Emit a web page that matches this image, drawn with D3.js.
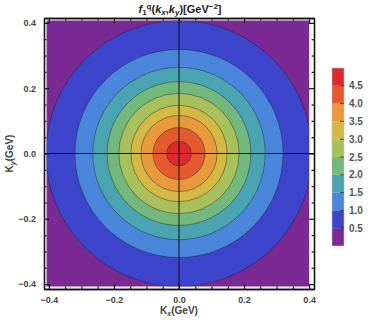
<!DOCTYPE html>
<html>
<head>
<meta charset="utf-8">
<script src="https://cdn.jsdelivr.net/npm/d3@7/dist/d3.min.js"></script>
<style>
  body { margin: 0; background: #fff; }
  svg { overflow: visible; }
  text { font-family: "Liberation Sans", Arial, sans-serif; }
</style>
</head>
<body>
<svg width="374" height="325" id="mainsvg"></svg>
<script>
// contour levels and the radius (GeV) where each level is reached
const levels = [0.5, 1.0, 1.5, 2.0, 2.5, 3.0, 3.5, 4.0, 4.5];
const contourRadii = [0.409, 0.32, 0.265, 0.221, 0.185, 0.148, 0.117, 0.08, 0.038];
// band colours, lowest band first
const bandColors = ['#7b2a95', '#3d45cc', '#4a86dc', '#4aa3b0', '#72b87c',
                    '#a7c05c', '#d3b944', '#e8993b', '#e5592f', '#de2a2c'];
const majorTicks = [-0.4, -0.2, 0.0, 0.2, 0.4];
const minorTicks = [-0.35, -0.3, -0.25, -0.15, -0.1, -0.05, 0.05, 0.1, 0.15, 0.25, 0.3, 0.35];
const legendLabels = [0.5, 1.0, 1.5, 2.0, 2.5, 3.0, 3.5, 4.0, 4.5];

const svg = d3.select('#mainsvg');
const margin = {top:18, left:44};
const innerWidth = 270;
const innerHeight = 271;

const xScale = d3.scaleLinear().domain([-0.415, 0.415]).range([0, innerWidth]);
const yScale = d3.scaleLinear().domain([-0.415, 0.415]).range([innerHeight, 0]);

const g = svg.append('g').attr('transform', `translate(${margin.left},${margin.top})`);

g.append('clipPath').attr('id', 'clip')
  .append('rect')
  .attr('x', xScale(-0.407)).attr('y', yScale(0.407))
  .attr('width', xScale(0.4) - xScale(-0.407))
  .attr('height', yScale(-0.407) - yScale(0.407));

const plot = g.append('g').attr('clip-path', 'url(#clip)');
plot.append('rect')
  .attr('x', xScale(-0.42)).attr('y', yScale(0.42))
  .attr('width', xScale(0.42) - xScale(-0.42))
  .attr('height', yScale(-0.42) - yScale(0.42))
  .attr('fill', bandColors[0]);

levels.forEach((lv, i) => {
  plot.append('circle')
    .attr('cx', xScale(0)).attr('cy', yScale(0))
    .attr('r', xScale(contourRadii[i]) - xScale(0))
    .attr('fill', bandColors[i + 1])
    .attr('stroke', '#222')
    .attr('stroke-opacity', 0.55)
    .attr('stroke-width', 0.8);
});

// crosshair
g.append('line').attr('x1', xScale(0)).attr('x2', xScale(0))
  .attr('y1', 0).attr('y2', innerHeight).attr('stroke', '#111').attr('stroke-width', 1);
g.append('line').attr('x1', 0).attr('x2', innerWidth)
  .attr('y1', yScale(0)).attr('y2', yScale(0)).attr('stroke', '#111').attr('stroke-width', 1);

// frame and ticks
const fmt = d3.format('.1f');
function addAxis(axis, transform, labels) {
  const a = g.append('g').attr('transform', transform).call(axis);
  a.attr('font-family', null);
  a.select('.domain').attr('stroke', '#111').attr('stroke-width', 1.3);
  a.selectAll('.tick line').attr('stroke', '#111').attr('stroke-width', 1.2);
  a.selectAll('.tick text').attr('font-size', 9).attr('font-weight', 'bold').attr('fill', '#444');
  if (!labels) a.selectAll('.tick text').remove();
  return a;
}
addAxis(d3.axisBottom(xScale).tickValues(majorTicks).tickSize(-5).tickSizeOuter(0).tickFormat(fmt).tickPadding(8),
  `translate(0,${innerHeight})`, true);
addAxis(d3.axisBottom(xScale).tickValues(minorTicks).tickSize(-2.5).tickSizeOuter(0),
  `translate(0,${innerHeight})`, false);
addAxis(d3.axisTop(xScale).tickValues(majorTicks).tickSize(-5).tickSizeOuter(0), 'translate(0,0)', false);
addAxis(d3.axisTop(xScale).tickValues(minorTicks).tickSize(-2.5).tickSizeOuter(0), 'translate(0,0)', false);
addAxis(d3.axisLeft(yScale).tickValues(majorTicks).tickSize(-5).tickSizeOuter(0).tickFormat(fmt).tickPadding(8),
  'translate(0,0)', true);
addAxis(d3.axisLeft(yScale).tickValues(minorTicks).tickSize(-2.5).tickSizeOuter(0), 'translate(0,0)', false);
addAxis(d3.axisRight(yScale).tickValues(majorTicks).tickSize(-5).tickSizeOuter(0),
  `translate(${innerWidth},0)`, false);
addAxis(d3.axisRight(yScale).tickValues(minorTicks).tickSize(-2.5).tickSizeOuter(0),
  `translate(${innerWidth},0)`, false);

// axis titles
const xt = g.append('text').attr('x', innerWidth / 2).attr('y', innerHeight + 25)
  .attr('text-anchor', 'middle').attr('font-size', 10).attr('font-weight', 'bold').attr('fill', '#444');
xt.append('tspan').text('K');
xt.append('tspan').text('x').attr('font-size', 7).attr('font-style', 'italic').attr('dy', 2);
xt.append('tspan').text('(GeV)').attr('dy', -2);

const yt = g.append('text').attr('transform', `translate(-31,${innerHeight / 2}) rotate(-90)`)
  .attr('text-anchor', 'middle').attr('font-size', 10).attr('font-weight', 'bold').attr('fill', '#444');
yt.append('tspan').text('K');
yt.append('tspan').text('y').attr('font-size', 7).attr('font-style', 'italic').attr('dy', 2);
yt.append('tspan').text('(GeV)').attr('dy', -2);

// title
const tt = svg.append('text').attr('x', 180).attr('y', 13)
  .attr('text-anchor', 'middle').attr('font-size', 11).attr('font-weight', 'bold').attr('fill', '#222');
tt.append('tspan').text('f').attr('font-style', 'italic');
tt.append('tspan').text('1').attr('font-size', 8).attr('dy', 2);
tt.append('tspan').text('q').attr('font-size', 8).attr('dy', -6);
tt.append('tspan').text('(').attr('dy', 4);
tt.append('tspan').text('k').attr('font-style', 'italic');
tt.append('tspan').text('x').attr('font-size', 8).attr('font-style', 'italic').attr('dy', 2);
tt.append('tspan').text(',').attr('dy', -2);
tt.append('tspan').text('k').attr('font-style', 'italic');
tt.append('tspan').text('y').attr('font-size', 8).attr('font-style', 'italic').attr('dy', 2);
tt.append('tspan').text(')[GeV').attr('dy', -2);
tt.append('tspan').text('\u22122').attr('font-size', 8).attr('dy', -4);
tt.append('tspan').text(']').attr('dy', 4);

// colour legend
const legScale = d3.scaleLinear().domain([0, 5]).range([246, 68]);
const leg = svg.append('g');
bandColors.forEach((c, i) => {
  leg.append('rect')
    .attr('x', 332).attr('width', 12)
    .attr('y', legScale(i * 0.5 + 0.5)).attr('height', legScale(i * 0.5) - legScale(i * 0.5 + 0.5))
    .attr('fill', c);
});
leg.append('rect').attr('x', 332).attr('y', legScale(5)).attr('width', 12)
  .attr('height', legScale(0) - legScale(5)).attr('fill', 'none').attr('stroke', '#bbb').attr('stroke-width', 0.6);
legendLabels.forEach(v => {
  leg.append('line').attr('x1', 340).attr('x2', 344)
    .attr('y1', legScale(v)).attr('y2', legScale(v)).attr('stroke', '#333').attr('stroke-width', 0.8);
  leg.append('text').attr('x', 349).attr('y', legScale(v) + 3.5)
    .attr('font-size', 10).attr('font-weight', 'bold').attr('fill', '#555')
    .text(v.toFixed(1));
});
</script>
</body>
</html>
